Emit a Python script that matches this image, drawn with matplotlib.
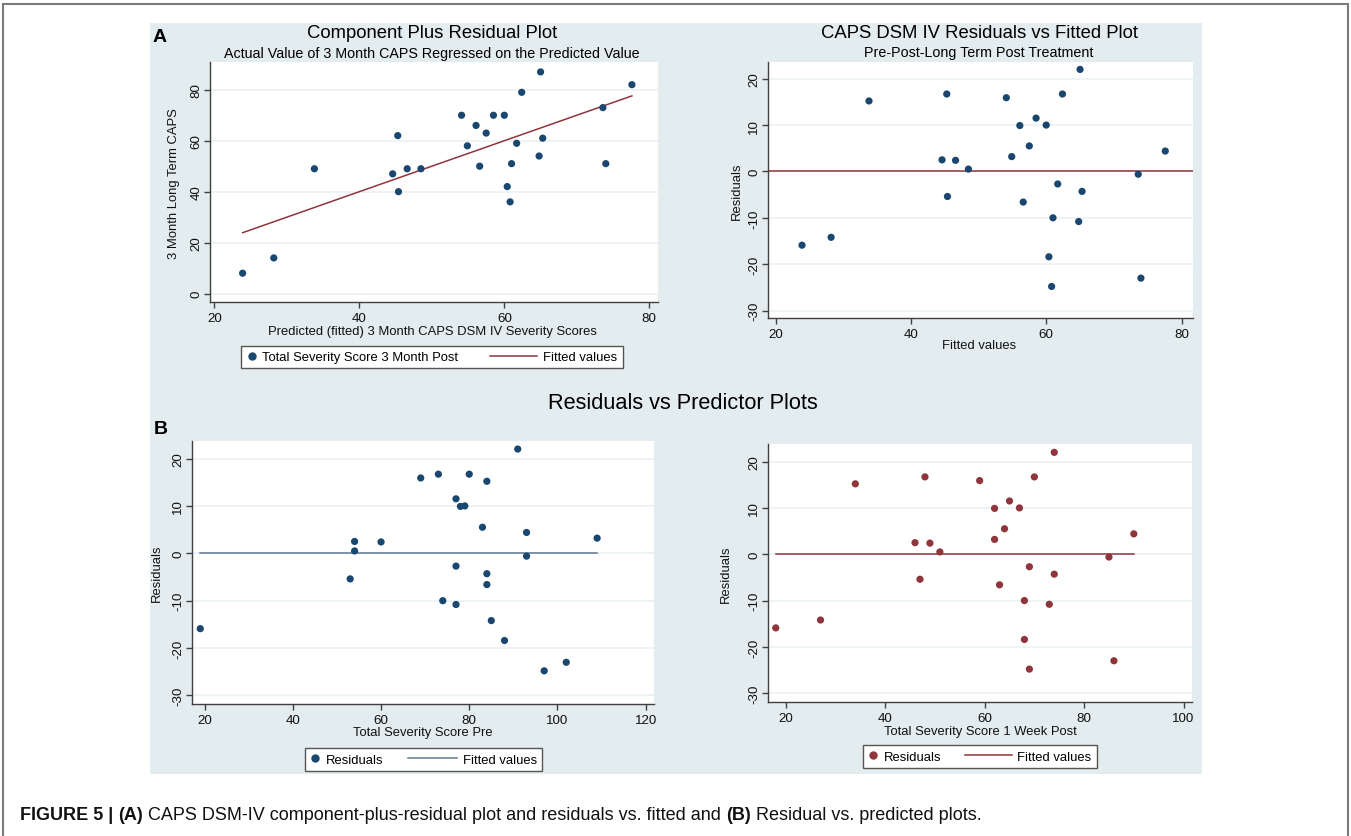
import numpy as np
import matplotlib.pyplot as plt
from matplotlib.patches import Rectangle
from matplotlib.lines import Line2D
from matplotlib.legend_handler import HandlerLine2D

plt.rcParams['font.family'] = ['Liberation Sans', 'DejaVu Sans']
plt.rcParams['axes.unicode_minus'] = False

# Values (one entry per subject, same order in every list)
fitted = [23.9, 28.2, 33.8, 44.6, 45.3, 45.4, 46.6, 48.5, 54.1, 54.9, 56.1, 56.6, 57.5,
          58.5, 60.0, 60.4, 60.8, 61.0, 61.7, 62.4, 64.8, 65.0, 65.3, 73.6, 74.0, 77.6]
caps_3month = [8, 14, 49, 47, 62, 40, 49, 49, 70, 58, 66, 50, 63,
               70, 70, 42, 36, 51, 59, 79, 54, 87, 61, 73, 51, 82]
residuals = [-15.9, -14.2, 15.2, 2.5, 16.7, -5.4, 2.4, 0.5, 15.9, 3.2, 9.9, -6.6, 5.5,
             11.5, 10.0, -18.4, -24.8, -10.0, -2.7, 16.7, -10.8, 22.0, -4.3, -0.6, -23.0, 4.4]
severity_pre = [19, 85, 84, 54, 73, 53, 60, 54, 69, 109, 78, 84, 83,
                77, 79, 88, 97, 74, 77, 80, 77, 91, 84, 93, 102, 93]
severity_1week = [18, 27, 34, 46, 48, 47, 49, 51, 59, 62, 62, 63, 64,
                  65, 67, 68, 69, 68, 69, 70, 73, 74, 74, 85, 86, 90]

W, H = 1351, 837
NAVY = '#1a476f'
MAROON = '#90353b'
SLATE = '#5b7895'
BG = '#e3ecee'
GRID = '#ebf1f3'
AXC = '#404040'

fig = plt.figure(figsize=(W / 100, H / 100), dpi=100)


def fx(px):
    return px / W


def fy(py):
    return 1 - py / H


# outer frame and light panel background (behind the axes)
fig.patches.append(Rectangle((fx(3), fy(860)), fx(1348) - fx(3), fy(5) - fy(860),
                             transform=fig.transFigure, facecolor='none',
                             edgecolor='#7a7a7a', lw=1.5, zorder=-10))
fig.patches.append(Rectangle((fx(150), fy(775)), fx(1202) - fx(150), fy(24) - fy(775),
                             transform=fig.transFigure, facecolor=BG,
                             edgecolor='none', zorder=-10))


class LongLine(HandlerLine2D):
    # draws the legend line further left than the handle box (Stata-like key)
    def __init__(self, extra, **kw):
        super().__init__(**kw)
        self.extra = extra

    def create_artists(self, legend, orig_handle, xdescent, ydescent, width, height,
                       fontsize, trans):
        return super().create_artists(legend, orig_handle, xdescent + self.extra, ydescent,
                                      width + self.extra, height, fontsize, trans)


def make_ax(l, t, r, b, xlim, ylim, xticks, yticks):
    ax = fig.add_axes([fx(l), fy(b), fx(r) - fx(l), fy(t) - fy(b)])
    ax.set_xlim(xlim)
    ax.set_ylim(ylim)
    ax.set_xticks(xticks)
    ax.set_yticks(yticks)
    ax.set_facecolor('white')
    for s in ['top', 'right']:
        ax.spines[s].set_visible(False)
    for s in ['left', 'bottom']:
        ax.spines[s].set_color(AXC)
        ax.spines[s].set_linewidth(1.0)
    ax.tick_params(colors=AXC, labelcolor='#111111', length=4, width=1.0, labelsize=9.6)
    ax.tick_params(axis='x', pad=3)
    ax.tick_params(axis='y', pad=1.5, labelrotation=90)
    plt.setp(ax.get_yticklabels(), va='center')
    ax.grid(axis='y', color=GRID, lw=1.2)
    ax.set_axisbelow(True)
    return ax


def labels(ax, xlabel, xpos, ylabel, ypos):
    ax.set_xlabel(xlabel, fontsize=9.4, color='#111111')
    ax.set_ylabel(ylabel, fontsize=9.4, color='#111111')
    ax.xaxis.set_label_coords(fx(xpos[0]), fy(xpos[1]), transform=fig.transFigure)
    ax.yaxis.set_label_coords(fx(ypos[0]), fy(ypos[1]), transform=fig.transFigure)
    ax.xaxis.label.set_va('center')
    ax.yaxis.label.set_va('center')


def key(ax, handles, names, center, colsp, extra):
    ax.legend(handles, names, ncol=2, loc='center',
              bbox_to_anchor=(fx(center[0]), fy(center[1])), bbox_transform=fig.transFigure,
              frameon=True, fancybox=False, edgecolor='#555555', framealpha=1,
              fontsize=9.4, handlelength=0.75, handletextpad=0.45, columnspacing=colsp,
              borderpad=0.4, handler_map={handles[1]: LongLine(extra)})


# ---- A: component plus residual plot
ax1 = make_ax(210, 63, 658, 303, (19.4, 81.2), (-3.3, 90.9), [20, 40, 60, 80], [0, 20, 40, 60, 80])
ax1.scatter(fitted, caps_3month, s=27, color=NAVY, edgecolors='none', zorder=3)
ax1.plot([min(fitted), max(fitted)], [min(fitted), max(fitted)], color=MAROON, lw=1.1, zorder=2)
labels(ax1, 'Predicted (fitted) 3 Month CAPS DSM IV Severity Scores', (432, 332),
       '3 Month Long Term CAPS', (174, 184))
key(ax1, [Line2D([], [], ls='none', marker='o', ms=5, color=NAVY),
          Line2D([], [], color=MAROON, lw=1.1)],
    ['Total Severity Score 3 Month Post', 'Fitted values'], (432, 358), 5.3, 27)

# ---- A: residuals vs fitted
ax2 = make_ax(768, 63, 1193, 319, (18.87, 81.7), (-31.6, 23.6), [20, 40, 60, 80],
              [-30, -20, -10, 0, 10, 20])
ax2.scatter(fitted, residuals, s=27, color=NAVY, edgecolors='none', zorder=3)
ax2.axhline(0, color=MAROON, lw=1.1, zorder=2)
labels(ax2, 'Fitted values', (979, 346), 'Residuals', (737, 191))

# ---- B: residuals vs pre
ax3 = make_ax(192, 442, 654, 705, (17.13, 121.9), (-31.8, 23.7), [20, 40, 60, 80, 100, 120],
              [-30, -20, -10, 0, 10, 20])
ax3.scatter(severity_pre, residuals, s=27, color=NAVY, edgecolors='none', zorder=3)
ax3.plot([min(severity_pre), max(severity_pre)], [0, 0], color=SLATE, lw=1.1, zorder=2)
labels(ax3, 'Total Severity Score Pre', (423, 733), 'Residuals', (157, 573))
key(ax3, [Line2D([], [], ls='none', marker='o', ms=5, color=NAVY),
          Line2D([], [], color=SLATE, lw=1.1)],
    ['Residuals', 'Fitted values'], (423.5, 760.5), 4.9, 28)

# ---- B: residuals vs 1 week post
ax4 = make_ax(768, 445, 1192, 703, (16.44, 101.7), (-31.9, 23.8), [20, 40, 60, 80, 100],
              [-30, -20, -10, 0, 10, 20])
ax4.scatter(severity_1week, residuals, s=27, color=MAROON, edgecolors='none', zorder=3)
ax4.plot([min(severity_1week), max(severity_1week)], [0, 0], color=MAROON, lw=1.1, zorder=2)
labels(ax4, 'Total Severity Score 1 Week Post', (980, 732), 'Residuals', (726, 574))
key(ax4, [Line2D([], [], ls='none', marker='o', ms=5, color=MAROON),
          Line2D([], [], color=MAROON, lw=1.1)],
    ['Residuals', 'Fitted values'], (980, 757.5), 4.6, 26.5)

# titles
fig.text(fx(432), fy(34), 'Component Plus Residual Plot', ha='center', va='center', fontsize=13.3)
fig.text(fx(432), fy(54), 'Actual Value of 3 Month CAPS Regressed on the Predicted Value',
         ha='center', va='center', fontsize=10.3)
fig.text(fx(979), fy(33), 'CAPS DSM IV Residuals vs Fitted Plot', ha='center', va='center',
         fontsize=13.3)
fig.text(fx(979), fy(53), 'Pre-Post-Long Term Post Treatment', ha='center', va='center',
         fontsize=10.3)
fig.text(fx(682.5), fy(404), 'Residuals vs Predictor Plots', ha='center', va='center',
         fontsize=15.7)
fig.text(fx(160), fy(38), 'A', ha='center', va='center', fontsize=14, weight='bold')
fig.text(fx(161), fy(430), 'B', ha='center', va='center', fontsize=14, weight='bold')

# caption with bold pieces
renderer = fig.canvas.get_renderer()
x = 20
for piece, wt in [('FIGURE 5 | ', 'bold'), ('(A)', 'bold'),
                  (' CAPS DSM-IV component-plus-residual plot and residuals vs. fitted and ', 'normal'),
                  ('(B)', 'bold'), (' Residual vs. predicted plots.', 'normal')]:
    t = fig.text(fx(x), fy(820), piece, ha='left', va='baseline', fontsize=13, weight=wt,
                 color='#111111')
    x = t.get_window_extent(renderer).x1

fig.savefig('out.png', dpi=100)
